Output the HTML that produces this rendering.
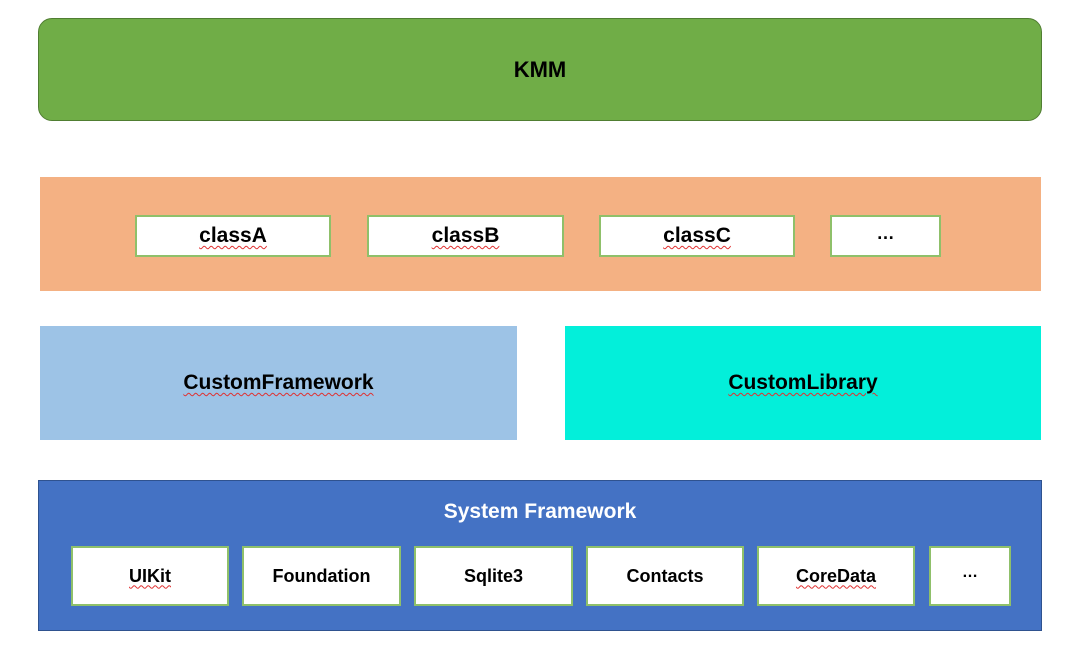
<!DOCTYPE html>
<html><head><style>
body{margin:0;width:1080px;height:656px;background:#fff;position:relative;overflow:hidden;font-family:"Liberation Sans",sans-serif;font-weight:bold;}
.b{position:absolute;box-sizing:border-box;display:flex;align-items:center;justify-content:center;color:#000;}
.w{background:#fff;border:2px solid #8fc06a;}
.u{text-decoration:underline wavy #e03030;text-decoration-thickness:1px;text-underline-offset:3px;}
</style></head><body>
<div class="b" style="left:38px;top:18px;width:1004px;height:103px;background:#70ad47;border:1px solid #507e32;border-radius:14px;font-size:22px;">KMM</div>

<div class="b" style="left:40px;top:177px;width:1001px;height:114px;background:#f4b183;"></div>
<div class="b w" style="left:135px;top:215px;width:196px;height:42px;font-size:21px;"><span class="u">classA</span></div>
<div class="b w" style="left:367px;top:215px;width:197px;height:42px;font-size:21px;"><span class="u">classB</span></div>
<div class="b w" style="left:599px;top:215px;width:196px;height:42px;font-size:21px;"><span class="u">classC</span></div>
<div class="b w" style="left:830px;top:215px;width:111px;height:42px;font-size:18px;padding-bottom:6px;">…</div>

<div class="b" style="left:40px;top:326px;width:477px;height:114px;background:#9dc3e6;font-size:21px;"><span class="u">CustomFramework</span></div>
<div class="b" style="left:565px;top:326px;width:476px;height:114px;background:#03efda;font-size:21px;"><span class="u">CustomLibrary</span></div>

<div class="b" style="left:38px;top:480px;width:1004px;height:151px;background:#4472c4;border:1px solid #2f528f;align-items:flex-start;padding-top:19px;color:#fff;font-size:21px;">System Framework</div>
<div class="b w" style="left:71px;top:546px;width:158px;height:60px;font-size:18px;"><span class="u">UIKit</span></div>
<div class="b w" style="left:242px;top:546px;width:159px;height:60px;font-size:18px;">Foundation</div>
<div class="b w" style="left:414px;top:546px;width:159px;height:60px;font-size:18px;">Sqlite3</div>
<div class="b w" style="left:586px;top:546px;width:158px;height:60px;font-size:18px;">Contacts</div>
<div class="b w" style="left:757px;top:546px;width:158px;height:60px;font-size:18px;"><span class="u">CoreData</span></div>
<div class="b w" style="left:929px;top:546px;width:82px;height:60px;font-size:16px;padding-bottom:6px;">…</div>
</body></html>
